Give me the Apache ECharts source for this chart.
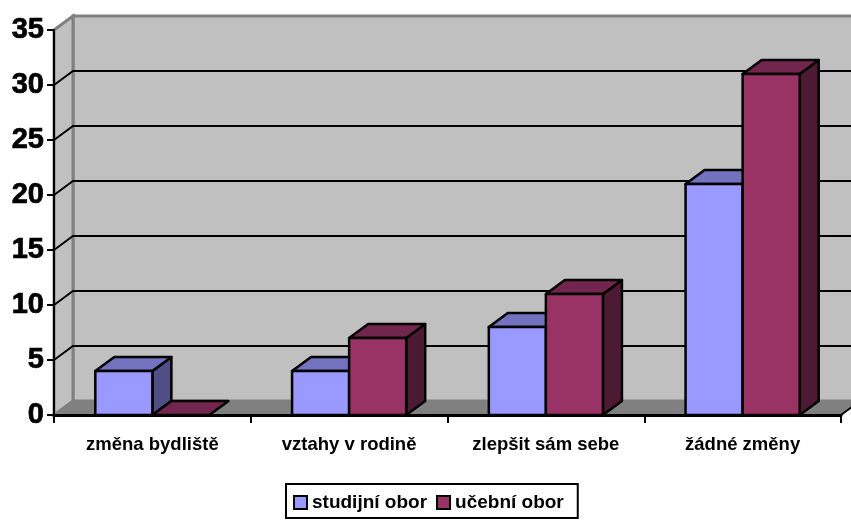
<!DOCTYPE html>
<html>
<head>
<meta charset="utf-8">
<style>html,body{margin:0;padding:0;background:#fff}#c{width:851px;height:520px}</style>
<script src="https://cdn.jsdelivr.net/npm/echarts@6/dist/echarts.min.js"></script>
</head>
<body>
<div id="c"></div>
<script>
// Survey answers per category, two study groups
const categories = ['změna bydliště', 'vztahy v rodině', 'zlepšit sám sebe', 'žádné změny'];
const studijni = [4, 4, 8, 21];
const ucebni = [0, 7, 11, 31];
const yTicks = [0, 5, 10, 15, 20, 25, 30, 35];

// Oblique projection used for the pseudo-3D box
const DEPTH_X = 19;
const DEPTH_Y = -14;
const BAR_RATIO = 0.29;
const FONT = '"Liberation Sans", Arial, sans-serif';
const INK = '#000';

const box = (fill, lineWidth) => ({ fill, stroke: INK, lineWidth, lineJoin: 'round' });

// Back wall, side wall, floor and gridlines of the plot box
function renderWalls(params, api) {
  const cs = params.coordSys;
  const l = cs.x, r = cs.x + cs.width;
  const y0 = api.coord([0, 0])[1];
  const yTop = api.coord([0, yTicks[yTicks.length - 1]])[1];
  const bx = l + DEPTH_X, dy = DEPTH_Y;
  const children = [
    { type: 'polygon', shape: { points: [[bx, yTop + dy], [r + DEPTH_X, yTop + dy], [r + DEPTH_X, y0 + dy], [bx, y0 + dy]] },
      style: { fill: '#c0c0c0', stroke: '#808080', lineWidth: 3 } },
    { type: 'polygon', shape: { points: [[l, yTop], [bx, yTop + dy], [bx, y0 + dy], [l, y0]] },
      style: { fill: '#c0c0c0', stroke: '#808080', lineWidth: 3 } },
    { type: 'polygon', shape: { points: [[l, y0], [bx, y0 + dy], [r + DEPTH_X, y0 + dy], [r, y0]] },
      style: { fill: '#808080', stroke: '#808080', lineWidth: 1 } },
    { type: 'line', shape: { x1: r, y1: y0, x2: r + DEPTH_X, y2: y0 + dy },
      style: { stroke: INK, lineWidth: 2 } }
  ];
  yTicks.slice(1, -1).forEach(v => {
    const y = api.coord([0, v])[1];
    children.push({ type: 'polyline', shape: { points: [[l, y], [bx, y + dy], [r + DEPTH_X, y + dy]] },
      style: { fill: null, stroke: INK, lineWidth: 2 } });
  });
  return { type: 'group', children };
}

// One extruded bar: side face, top face, front face
function barRenderer(offset, front, top, side) {
  return function (params, api) {
    const i = api.value(0);
    const v = api.value(1);
    const band = api.size([1, 0])[0];
    const w = band * BAR_RATIO;
    const c = api.coord([i, v]);
    const base = api.coord([i, 0])[1];
    const x0 = c[0] + offset * w, x1 = x0 + w, y = c[1];
    const dx = DEPTH_X, dy = DEPTH_Y;
    const children = [];
    if (v > 0) {
      children.push({ type: 'polygon', shape: { points: [[x1, y], [x1 + dx, y + dy], [x1 + dx, base + dy], [x1, base]] }, style: box(side, 2.5) });
    }
    children.push({ type: 'polygon', shape: { points: [[x0, y], [x0 + dx, y + dy], [x1 + dx, y + dy], [x1, y]] }, style: box(top, 2.5) });
    if (v > 0) {
      children.push({ type: 'polygon', shape: { points: [[x0, y], [x1, y], [x1, base], [x0, base]] }, style: box(front, 2.5) });
    }
    return { type: 'group', children };
  };
}

const chart = echarts.init(document.getElementById('c'), null, { renderer: 'canvas' });
chart.setOption({
  animation: false,
  backgroundColor: '#fff',
  grid: { left: 54, right: 10, top: 30, bottom: 105, containLabel: false },
  legend: {
    data: ['studijní obor', 'učební obor'],
    left: 286, top: 484,
    padding: [9, 14, 6, 7],
    itemGap: 9, itemWidth: 13, itemHeight: 13,
    borderColor: INK, borderWidth: 2, backgroundColor: '#fff',
    textStyle: { fontFamily: FONT, fontWeight: 'bold', fontSize: 19, color: INK },
    icon: 'rect'
  },
  xAxis: {
    type: 'category', data: categories, z: 10,
    axisLine: { lineStyle: { color: INK, width: 3 } },
    axisTick: { show: true, alignWithLabel: false, length: 8, lineStyle: { color: INK, width: 2 } },
    axisLabel: { fontFamily: FONT, fontWeight: 'bold', fontSize: 18.5, color: INK, margin: 20, interval: 0 }
  },
  yAxis: {
    type: 'value', min: 0, max: 35, interval: 5, z: 10,
    axisLine: { show: true, lineStyle: { color: INK, width: 2 } },
    axisTick: { show: true, length: 7, lineStyle: { color: INK, width: 2 } },
    axisLabel: { fontFamily: FONT, fontWeight: 'bold', fontSize: 29, color: INK, margin: 10, padding: [6, 0, 0, 0],
      textBorderColor: INK, textBorderWidth: 0.7 },
    splitLine: { show: false }
  },
  series: [
    { type: 'custom', name: 'walls', z: 1, silent: true, renderItem: renderWalls, data: [[0, 0]], encode: { x: 0, y: 1 } },
    { type: 'custom', name: 'studijní obor', z: 2, renderItem: barRenderer(-1, '#9999ff', '#7272bf', '#4f4f85'),
      itemStyle: { color: '#9999ff', borderColor: INK, borderWidth: 3 },
      data: studijni.map((v, i) => [i, v]), encode: { x: 0, y: 1 } },
    { type: 'custom', name: 'učební obor', z: 3, renderItem: barRenderer(0, '#993366', '#73264d', '#4d1a33'),
      itemStyle: { color: '#993366', borderColor: INK, borderWidth: 3 },
      data: ucebni.map((v, i) => [i, v]), encode: { x: 0, y: 1 } }
  ]
});
</script>
</body>
</html>
